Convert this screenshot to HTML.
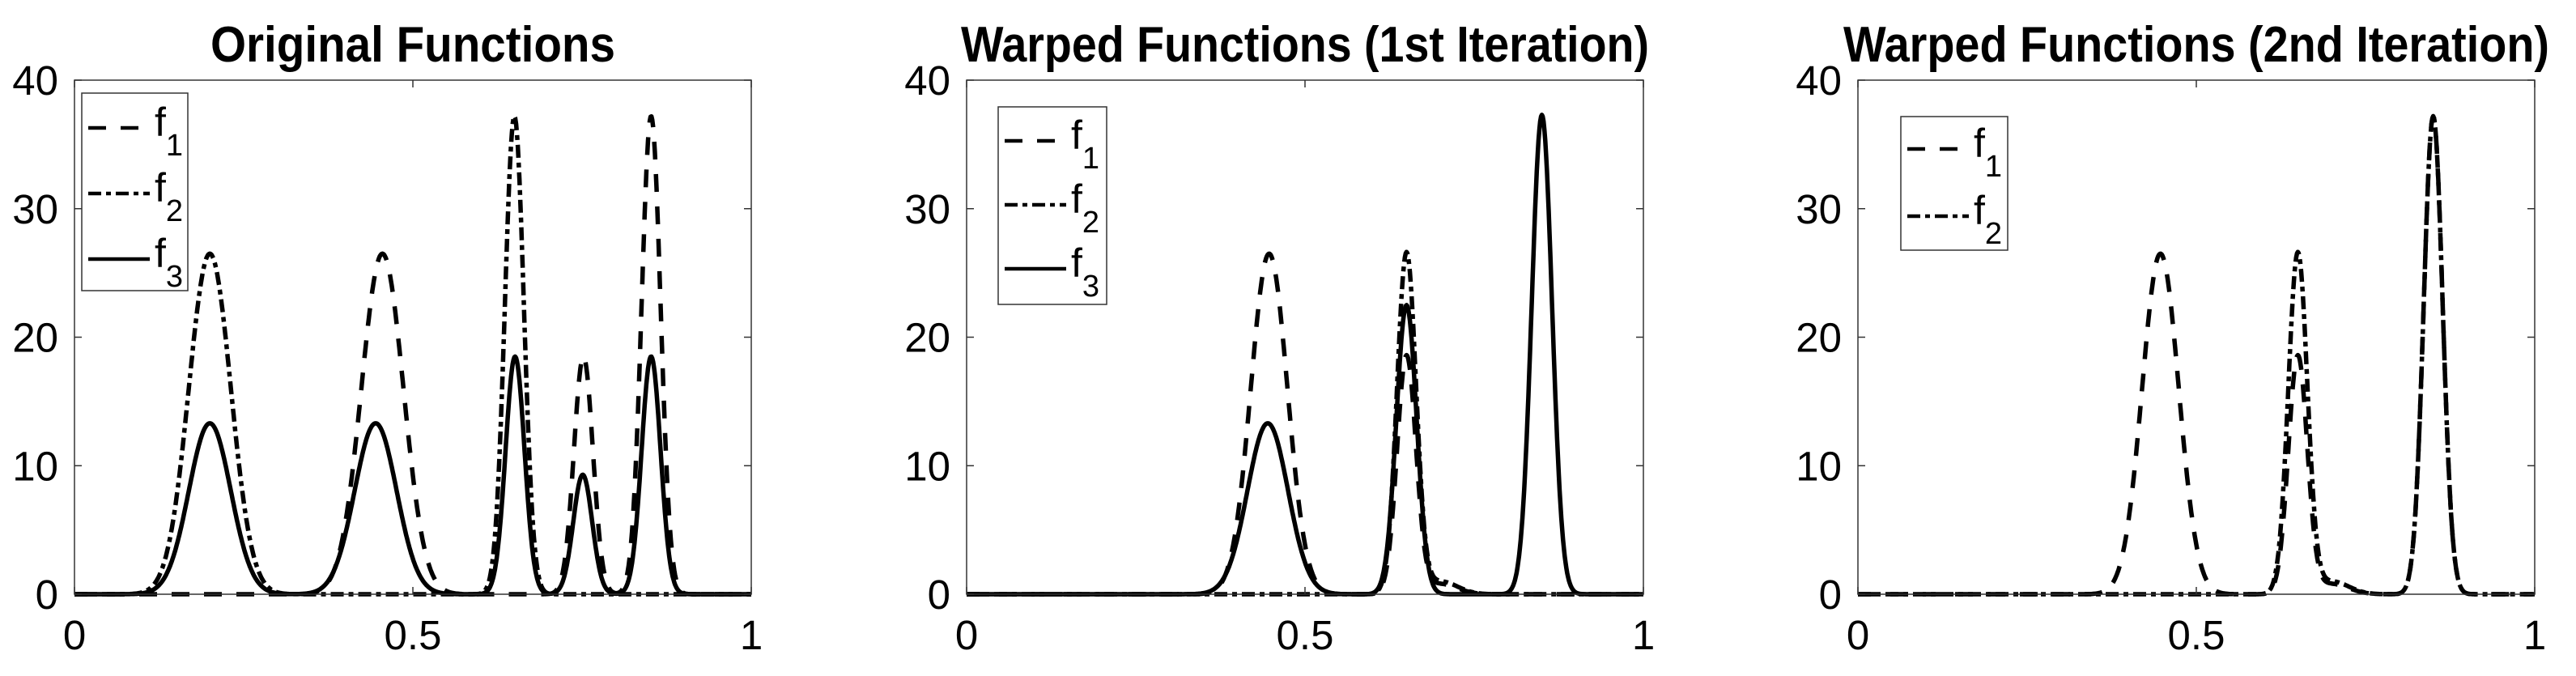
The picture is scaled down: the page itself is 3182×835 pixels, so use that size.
<!DOCTYPE html>
<html><head><meta charset="utf-8"><style>
html,body{margin:0;padding:0;background:#fff;}
svg{display:block;font-family:"Liberation Sans",Arial,sans-serif;}
</style></head><body>
<svg id="fig" width="3182" height="835" viewBox="0 0 3182 835" xmlns="http://www.w3.org/2000/svg">
<rect width="3182" height="835" fill="#fff"/>
</svg>
<script>
// ---- data (peak parameters: center, height, width sigma) ----
const xTicks = [0, 0.5, 1];
const xTickLabels = ["0", "0.5", "1"];
const yTicks = [0, 10, 20, 30, 40];
const yTickLabels = ["0", "10", "20", "30", "40"];
const panelTitles = ["Original Functions", "Warped Functions (1st Iteration)", "Warped Functions (2nd Iteration)"];

const p1_f1_centers = [0.455, 0.752, 0.852];
const p1_f1_heights = [26.5, 18.5, 37.2];
const p1_f1_widths = [0.031, 0.014, 0.014];
const p1_f2_centers = [0.200, 0.650];
const p1_f2_heights = [26.5, 37.2];
const p1_f2_widths = [0.031, 0.014];
const p1_f3_centers = [0.200, 0.445, 0.651, 0.751, 0.852];
const p1_f3_heights = [13.3, 13.3, 18.5, 9.3, 18.5];
const p1_f3_widths = [0.031, 0.031, 0.014, 0.014, 0.014];

const p2_f1_centers = [0.447, 0.650, 0.700];
const p2_f1_heights = [26.5, 18.5, 0.8];
const p2_f1_widths = [0.027, 0.014, 0.025];
const p2_f2_centers = [0.650, 0.700];
const p2_f2_heights = [26.5, 1.0];
const p2_f2_widths = [0.014, 0.025];
const p2_f3_centers = [0.445, 0.650, 0.850];
const p2_f3_heights = [13.3, 22.5, 37.3];
const p2_f3_widths = [0.030, 0.015, 0.015];

const p3_f1_centers = [0.447, 0.650, 0.700, 0.850];
const p3_f1_heights = [26.5, 18.5, 0.8, 37.2];
const p3_f1_widths = [0.027, 0.014, 0.025, 0.014];
const p3_f2_centers = [0.650, 0.700, 0.850];
const p3_f2_heights = [26.5, 1.0, 37.2];
const p3_f2_widths = [0.014, 0.025, 0.014];

// ---- layout ----
const svg = document.getElementById('fig');
const NS = 'http://www.w3.org/2000/svg';
const PLOT_W = 836, TOP = 99, BOTTOM = 734;
const panelLefts = [92, 1194, 2295];
const styles = {f1: "22,18", f2: "16,6,6,6", f3: ""};

function mk(tag, attrs, parent) {
  const e = document.createElementNS(NS, tag);
  for (const k in attrs) e.setAttribute(k, attrs[k]);
  (parent || svg).appendChild(e);
  return e;
}
function xScale(left, v) { return left + v * PLOT_W; }
function yScale(v) { return BOTTOM - v / 40 * (BOTTOM - TOP); }

function drawCurve(g, left, centers, heights, widths, dash, name) {
  let d = '';
  const N = 800;
  for (let i = 0; i <= N; i++) {
    const x = i / N;
    let y = 0;
    for (let k = 0; k < centers.length; k++) {
      y += heights[k] * Math.exp(-0.5 * Math.pow((x - centers[k]) / widths[k], 2));
    }
    d += (i ? 'L' : 'M') + xScale(left, x).toFixed(1) + ',' + yScale(y).toFixed(1);
  }
  const p = mk('path', {d: d, fill: 'none', stroke: '#000', 'stroke-width': 5.5, 'stroke-linejoin': 'round'}, g);
  if (dash) p.setAttribute('stroke-dasharray', dash);
  
  
}

function drawPanel(idx, series, legend) {
  const left = panelLefts[idx];
  const g = mk('g', {});
  
  
  const t = mk('text', {x: left + PLOT_W / 2, y: 76, 'text-anchor': 'middle', 'font-size': 62, 'font-weight': 'bold'}, g);
  t.textContent = panelTitles[idx];
  
  
  const tw = [500, 850, 872][idx];
  t.setAttribute('textLength', tw);
  t.setAttribute('lengthAdjust', 'spacingAndGlyphs');
  series.forEach(s => drawCurve(g, left, s[0], s[1], s[2], s[3], s[4]));
  const box = mk('rect', {x: left, y: TOP, width: PLOT_W, height: BOTTOM - TOP, fill: 'none', stroke: '#333', 'stroke-width': 1.5}, g);
  
  
  yTicks.forEach((v, i) => {
    const y = yScale(v);
    mk('line', {x1: left, x2: left + 9, y1: y, y2: y, stroke: '#333', 'stroke-width': 1.5}, g);
    mk('line', {x1: left + PLOT_W, x2: left + PLOT_W - 9, y1: y, y2: y, stroke: '#333', 'stroke-width': 1.5}, g);
    const lab = mk('text', {x: left - 20, y: y + 18, 'text-anchor': 'end', 'font-size': 51}, g);
    lab.textContent = yTickLabels[i];
    
    
  });
  xTicks.forEach((v, i) => {
    const x = xScale(left, v);
    mk('line', {x1: x, x2: x, y1: BOTTOM, y2: BOTTOM - 9, stroke: '#333', 'stroke-width': 1.5}, g);
    mk('line', {x1: x, x2: x, y1: TOP, y2: TOP + 9, stroke: '#333', 'stroke-width': 1.5}, g);
    const lab = mk('text', {x: x, y: 802, 'text-anchor': 'middle', 'font-size': 51}, g);
    lab.textContent = xTickLabels[i];
    
    
  });
  const lg = mk('g', {}, g);
  
  
  mk('rect', {x: legend.x, y: legend.y, width: legend.w, height: legend.h, fill: '#fff', stroke: '#333', 'stroke-width': 1.5}, lg);
  legend.entries.forEach((e, i) => {
    const ly = legend.first + i * legend.step;
    const ln = mk('line', {x1: legend.x + 8, x2: legend.x + 84, y1: ly, y2: ly, stroke: '#000', 'stroke-width': 4.5}, lg);
    if (styles[e]) ln.setAttribute('stroke-dasharray', styles[e]);
    const tx = mk('text', {x: legend.x + 90, y: ly + 10, 'font-size': 50}, lg);
    tx.textContent = 'f';
    const sub = mk('tspan', {dy: 24, 'font-size': 38}, tx);
    sub.textContent = e.slice(1);
    
    
  });
}

drawPanel(0, [
  [p1_f1_centers, p1_f1_heights, p1_f1_widths, styles.f1, 'p1-f1-line'],
  [p1_f2_centers, p1_f2_heights, p1_f2_widths, styles.f2, 'p1-f2-line'],
  [p1_f3_centers, p1_f3_heights, p1_f3_widths, styles.f3, 'p1-f3-line']
], {x: 101, y: 115, w: 131, h: 244, first: 158, step: 81, entries: ['f1', 'f2', 'f3']});

drawPanel(1, [
  [p2_f1_centers, p2_f1_heights, p2_f1_widths, styles.f1, 'p2-f1-line'],
  [p2_f2_centers, p2_f2_heights, p2_f2_widths, styles.f2, 'p2-f2-line'],
  [p2_f3_centers, p2_f3_heights, p2_f3_widths, styles.f3, 'p2-f3-line']
], {x: 1233, y: 132, w: 134, h: 244, first: 174, step: 79, entries: ['f1', 'f2', 'f3']});

drawPanel(2, [
  [p3_f1_centers, p3_f1_heights, p3_f1_widths, styles.f1, 'p3-f1-line'],
  [p3_f2_centers, p3_f2_heights, p3_f2_widths, styles.f2, 'p3-f2-line']
], {x: 2348, y: 144, w: 132, h: 165, first: 184, step: 83, entries: ['f1', 'f2']});
</script>
</body></html>
